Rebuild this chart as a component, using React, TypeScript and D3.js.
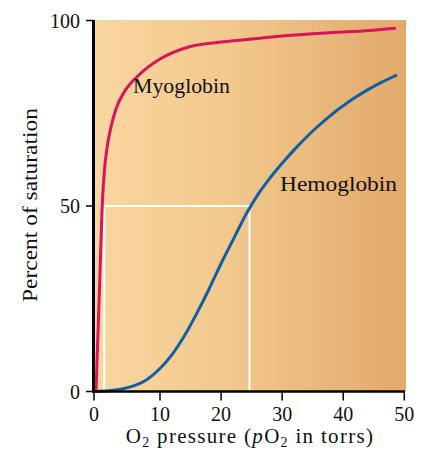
import React from 'react';
import * as d3 from 'd3';

const xTicks = [0, 10, 20, 30, 40, 50];
const yTicks = [0, 50, 100];

const myoglobinX = [0.3, 0.8, 1.3, 1.6, 2, 2.6, 3.4, 4.6, 6.8, 10, 15, 20, 26.7, 30, 35, 40, 45, 48.6];
const myoglobinY = [0, 26, 52, 60, 66, 71.5, 76.5, 80.8, 85.3, 89.6, 93.0, 94.2, 95.3, 95.8, 96.4, 96.9, 97.4, 97.9];

const hemoglobinX = [0, 2, 4, 6, 8, 10, 12, 14, 16, 18, 20, 22, 24, 26, 28, 30, 32, 34, 36, 38, 40, 42, 44, 46, 48, 48.8];
const hemoglobinY = [0, 0.2, 0.6, 1.5, 3.2, 6.2, 10, 15, 21, 27.5, 34.5, 41, 47.5, 53, 57.5, 61.5, 65.2, 68.6, 71.7, 74.5, 77, 79.3, 81.3, 83.1, 84.7, 85.3];

const halfSatPercent = 50;
const halfSatPressures = [1.55, 24.65];

const seriesLabels = ['Myoglobin', 'Hemoglobin'];

const W = 429;
const H = 451;
const FONT = '"Liberation Serif", "Times New Roman", serif';

export default function App() {
  const x = d3.scaleLinear().domain([0, 10, 50]).range([94, 160, 404.3]);
  const y = d3.scaleLinear().domain([0, 100]).range([391.5, 20.5]);
  const line = d3
    .line<[number, number]>()
    .x((d) => x(d[0]))
    .y((d) => y(d[1]))
    .curve(d3.curveMonotoneX);

  const myo: [number, number][] = myoglobinX.map((v, i) => [v, myoglobinY[i]]);
  const hem: [number, number][] = hemoglobinX.map((v, i) => [v, hemoglobinY[i]]);

  const x0 = x(0);
  const x50 = x(50);
  const y0 = y(0);
  const y100 = y(100);

  return (
    <svg
      width={W}
      height={H}
      style={{ position: 'absolute', left: 0, top: 0, display: 'block' }}
      fontFamily={FONT}
    >
      <defs>
        <linearGradient id="bg" x1="0" x2="1" y1="0" y2="0">
          <stop offset="0%" stopColor="#f9d7a0" />
          <stop offset="45%" stopColor="#f1c78c" />
          <stop offset="100%" stopColor="#e2a96b" />
        </linearGradient>
      </defs>
      <rect x={x0} y={y100 - 0.5} width={x50 - x0 + 1.7} height={y0 - y100 + 0.5} fill="url(#bg)" />

      {/* half saturation guides */}
      <g stroke="#ffffff" strokeWidth={2} fill="none">
        <line x1={x(halfSatPressures[0])} x2={x(halfSatPressures[1])} y1={y(halfSatPercent)} y2={y(halfSatPercent)} />
        {halfSatPressures.map((p, i) => (
          <line key={i} x1={x(p)} x2={x(p)} y1={y(halfSatPercent) - 1} y2={y0} />
        ))}
      </g>

      <path d={line(hem) || ''} fill="none" stroke="#0f5fa6" strokeWidth={3} />
      <path d={line(myo) || ''} fill="none" stroke="#d9145a" strokeWidth={3} />

      {/* axes */}
      <line x1={x0 - 0.5} x2={x0 - 0.5} y1={y100 - 0.5} y2={y0 + 1.5} stroke="#000" strokeWidth={3} />
      <line x1={x0 - 2} x2={x50 + 0.5} y1={y0} y2={y0} stroke="#000" strokeWidth={2.5} />

      {xTicks.map((t) => (
        <g key={t}>
          <line x1={x(t)} x2={x(t)} y1={y0} y2={y0 + 9} stroke="#000" strokeWidth={1.5} />
          <text x={x(t)} y={421} textAnchor="middle" fontSize={20} fill="#111">
            {t}
          </text>
        </g>
      ))}
      {yTicks.map((t) => (
        <g key={t}>
          <line x1={x0 - 8} x2={x0} y1={y(t)} y2={y(t)} stroke="#000" strokeWidth={1.5} />
          <text x={80} y={y(t)} dy="0.35em" textAnchor="end" fontSize={20} fill="#111">
            {t}
          </text>
        </g>
      ))}

      <text x={133} y={93} fontSize={21} fill="#111" textLength={97} lengthAdjust="spacingAndGlyphs">
        {seriesLabels[0]}
      </text>
      <text x={280} y={191} fontSize={21} fill="#111" textLength={117} lengthAdjust="spacingAndGlyphs">
        {seriesLabels[1]}
      </text>

      <text
        transform="translate(36.5,205) rotate(-90)"
        textAnchor="middle"
        fontSize={21}
        fill="#111"
        textLength={194}
        lengthAdjust="spacingAndGlyphs"
      >
        Percent of saturation
      </text>

      <text x={250} y={443} textAnchor="middle" fontSize={21} fill="#111" letterSpacing={1.3}>
        O<tspan fontSize={14} dy={4}>2</tspan>
        <tspan dy={-4}> pressure (</tspan>
        <tspan fontStyle="italic">p</tspan>O<tspan fontSize={14} dy={4}>2</tspan>
        <tspan dy={-4}> in torrs)</tspan>
      </text>
    </svg>
  );
}
